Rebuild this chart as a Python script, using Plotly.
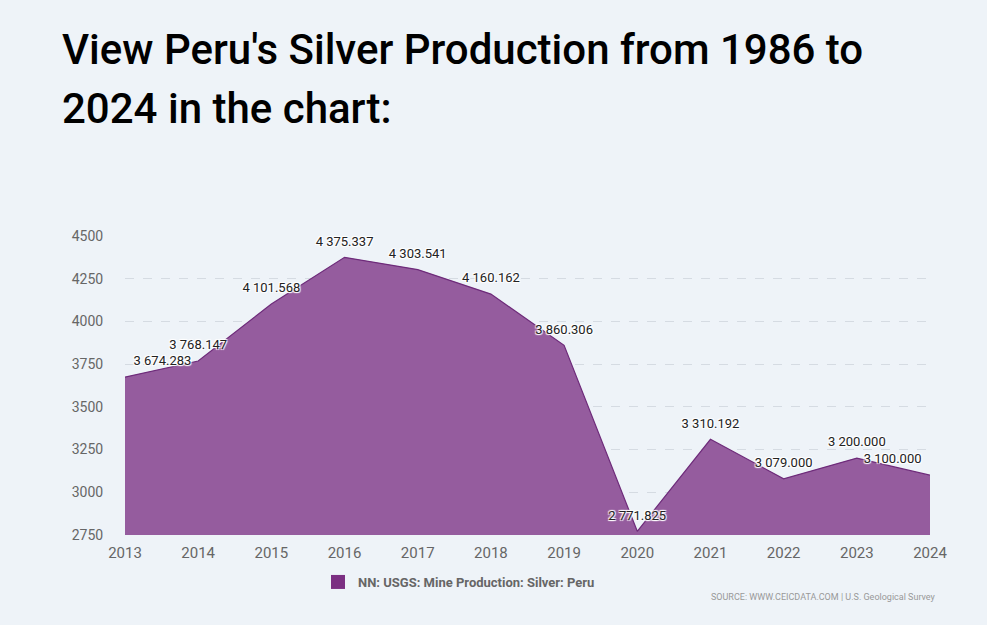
import plotly.graph_objs as go

# Peru silver mine production (tonnes)
years = [2013, 2014, 2015, 2016, 2017, 2018, 2019, 2020, 2021, 2022, 2023, 2024]
production = [3674.283, 3768.147, 4101.568, 4375.337, 4303.541, 4160.162,
              3860.306, 2771.825, 3310.192, 3079.000, 3200.000, 3100.000]
y_ticks = [2750, 3000, 3250, 3500, 3750, 4000, 4250, 4500]

series_name = 'NN: USGS: Mine Production: Silver: Peru'
title_lines = ["View Peru's Silver Production from 1986 to", "2024 in the chart:"]


def fmt(v):
    # space as thousands separator, three decimals
    return f'{v:,.3f}'.replace(',', ' ')


labels = [fmt(v) for v in production]
positions = ['top center'] * len(years)
positions[0] = 'top right'
positions[-1] = 'top left'

# plot area: top edge at 236px, bottom at 535px (299px tall)
def paper_y(px):
    return (535 - px) / 299


fig = go.Figure()

fig.add_trace(go.Scatter(
    x=years,
    y=production,
    mode='lines+markers+text',
    name=series_name,
    showlegend=False,
    fill='tozeroy',
    fillcolor='#955c9e',
    line=dict(color='#6e2b7a', width=1.2),
    marker=dict(size=12, opacity=0),
    text=labels,
    textposition=positions,
    textfont=dict(family='Roboto', size=13, color='#222222',
                  shadow='1px 1px 1px white, -1px -1px 1px white, 1px -1px 1px white, -1px 1px 1px white'),
    cliponaxis=False,
    hovertemplate='%{x}: %{y:.3f}<extra></extra>'
))

# legend entry only: square swatch
fig.add_trace(go.Scatter(
    x=[None], y=[None],
    mode='markers',
    name=series_name,
    marker=dict(symbol='square', size=14, color='#7b2f82'),
    hoverinfo='skip',
))

annotations = []
for txt, mid in zip(title_lines, [49, 108]):
    annotations.append(dict(
        text=txt, xref='paper', yref='paper',
        x=-65 / 805, xanchor='left',
        y=paper_y(mid), yanchor='middle',
        showarrow=False,
        font=dict(family='Roboto', size=42, color='#000000', weight=500),
    ))
annotations.append(dict(
    text='SOURCE: WWW.CEICDATA.COM | U.S. Geological Survey',
    xref='paper', yref='paper',
    x=1 + 8 / 805, xanchor='right',
    y=paper_y(597), yanchor='middle',
    showarrow=False,
    font=dict(family='Roboto', size=9, color='#999999'),
))

fig.update_layout(
    width=987,
    height=625,
    paper_bgcolor='#eef3f8',
    plot_bgcolor='#eef3f8',
    margin=dict(l=125, r=57, t=236, b=90),
    xaxis=dict(
        range=[2013, 2024],
        tickvals=years,
        showgrid=False,
        zeroline=False,
        showline=False,
        tickfont=dict(family='Roboto', size=15, color='#666666'),
        ticks='outside', ticklen=4, tickcolor='rgba(0,0,0,0)',
    ),
    yaxis=dict(
        range=[2750, 4500],
        tickvals=y_ticks,
        showgrid=True,
        gridcolor='#d5dbe2',
        griddash='dash',
        gridwidth=1,
        zeroline=False,
        showline=False,
        tickfont=dict(family='Roboto', size=14, color='#666666'),
        ticks='outside', ticklen=18, tickcolor='rgba(0,0,0,0)',
    ),
    showlegend=True,
    legend=dict(
        orientation='h',
        x=(318 - 125) / 805, xanchor='left',
        y=paper_y(582), yanchor='middle',
        font=dict(family='Roboto', size=13, color='#666666', weight='bold'),
        bgcolor='rgba(0,0,0,0)',
        itemwidth=30,
    ),
    annotations=annotations,
)

fig.write_html('out.html', config={'displayModeBar': False},
               post_script="document.body.style.margin='0';")
